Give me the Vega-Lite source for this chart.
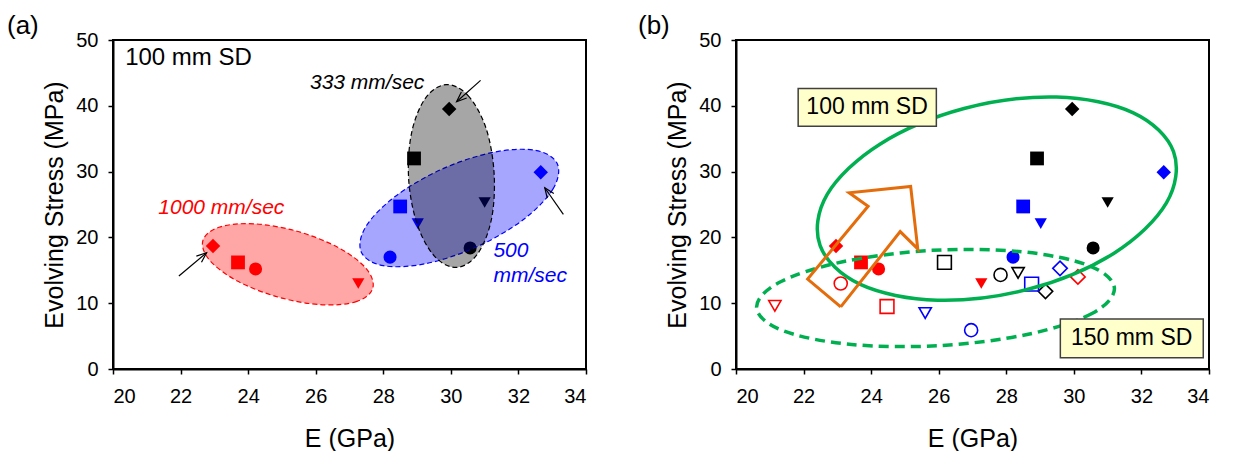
{
  "$schema": "https://vega.github.io/schema/vega-lite/v6.json",
  "padding": {"left": 6, "top": 12, "right": 5, "bottom": 2},
  "bounds": "flush",
  "spacing": 150,
  "config": {
    "font": "Liberation Sans",
    "view": {"stroke": "black", "strokeWidth": 2},
    "axis": {
      "grid": false,
      "domainColor": "black",
      "domainWidth": 2,
      "tickColor": "black",
      "tickWidth": 1.5,
      "tickSize": 5,
      "labelFont": "Liberation Sans",
      "labelFontSize": 20,
      "labelColor": "black",
      "titleFont": "Liberation Sans",
      "titleFontSize": 25,
      "titleFontWeight": "normal",
      "titleColor": "black"
    },
    "axisX": {"labelPadding": 12, "titlePadding": 20},
    "axisY": {"labelPadding": 10, "titlePadding": 8},
    "title": {"fontSize": 26, "fontWeight": "normal", "anchor": "start", "frame": "group", "baseline": "alphabetic", "offset": -9, "color": "black"}
  },
  "datasets": {
    "points": [
      {"SD": "100 mm", "rate": "1000 mm/sec", "specimen": "A", "E": 22.96, "S": 18.7},
      {"SD": "100 mm", "rate": "1000 mm/sec", "specimen": "B", "E": 23.70, "S": 16.2},
      {"SD": "100 mm", "rate": "1000 mm/sec", "specimen": "C", "E": 24.22, "S": 15.2},
      {"SD": "100 mm", "rate": "1000 mm/sec", "specimen": "D", "E": 27.26, "S": 13.0},
      {"SD": "100 mm", "rate": "333 mm/sec", "specimen": "A", "E": 29.95, "S": 39.5},
      {"SD": "100 mm", "rate": "333 mm/sec", "specimen": "B", "E": 28.91, "S": 32.0},
      {"SD": "100 mm", "rate": "333 mm/sec", "specimen": "C", "E": 30.57, "S": 18.4},
      {"SD": "100 mm", "rate": "333 mm/sec", "specimen": "D", "E": 31.00, "S": 25.3},
      {"SD": "100 mm", "rate": "500 mm/sec", "specimen": "A", "E": 32.66, "S": 29.9},
      {"SD": "100 mm", "rate": "500 mm/sec", "specimen": "B", "E": 28.50, "S": 24.7},
      {"SD": "100 mm", "rate": "500 mm/sec", "specimen": "C", "E": 28.20, "S": 17.0},
      {"SD": "100 mm", "rate": "500 mm/sec", "specimen": "D", "E": 29.02, "S": 22.1},
      {"SD": "150 mm", "rate": "1000 mm/sec", "specimen": "A", "E": 30.12, "S": 14.0},
      {"SD": "150 mm", "rate": "1000 mm/sec", "specimen": "B", "E": 24.47, "S": 9.5},
      {"SD": "150 mm", "rate": "1000 mm/sec", "specimen": "C", "E": 23.10, "S": 13.0},
      {"SD": "150 mm", "rate": "1000 mm/sec", "specimen": "D", "E": 21.15, "S": 9.6},
      {"SD": "150 mm", "rate": "333 mm/sec", "specimen": "A", "E": 29.16, "S": 11.8},
      {"SD": "150 mm", "rate": "333 mm/sec", "specimen": "B", "E": 26.17, "S": 16.2},
      {"SD": "150 mm", "rate": "333 mm/sec", "specimen": "C", "E": 27.83, "S": 14.3},
      {"SD": "150 mm", "rate": "333 mm/sec", "specimen": "D", "E": 28.35, "S": 14.6},
      {"SD": "150 mm", "rate": "500 mm/sec", "specimen": "A", "E": 29.59, "S": 15.3},
      {"SD": "150 mm", "rate": "500 mm/sec", "specimen": "B", "E": 28.75, "S": 12.9},
      {"SD": "150 mm", "rate": "500 mm/sec", "specimen": "C", "E": 26.96, "S": 5.9},
      {"SD": "150 mm", "rate": "500 mm/sec", "specimen": "D", "E": 25.60, "S": 8.5}
    ],
    "rings": [
      {"ring": "1000 mm/sec", "i": 0, "E": 27.69, "S": 12.30},
      {"ring": "1000 mm/sec", "i": 1, "E": 27.22, "S": 10.27},
      {"ring": "1000 mm/sec", "i": 2, "E": 26.20, "S": 9.76},
      {"ring": "1000 mm/sec", "i": 3, "E": 24.91, "S": 10.90},
      {"ring": "1000 mm/sec", "i": 4, "E": 23.68, "S": 13.37},
      {"ring": "1000 mm/sec", "i": 5, "E": 22.86, "S": 16.53},
      {"ring": "1000 mm/sec", "i": 6, "E": 22.66, "S": 19.52},
      {"ring": "1000 mm/sec", "i": 7, "E": 23.14, "S": 21.55},
      {"ring": "1000 mm/sec", "i": 8, "E": 24.16, "S": 22.07},
      {"ring": "1000 mm/sec", "i": 9, "E": 25.45, "S": 20.93},
      {"ring": "1000 mm/sec", "i": 10, "E": 26.67, "S": 18.45},
      {"ring": "1000 mm/sec", "i": 11, "E": 27.49, "S": 15.29},
      {"ring": "500 mm/sec", "i": 0, "E": 33.15, "S": 31.19},
      {"ring": "500 mm/sec", "i": 1, "E": 33.02, "S": 27.34},
      {"ring": "500 mm/sec", "i": 2, "E": 32.15, "S": 22.72},
      {"ring": "500 mm/sec", "i": 3, "E": 30.77, "S": 18.57},
      {"ring": "500 mm/sec", "i": 4, "E": 29.25, "S": 16.00},
      {"ring": "500 mm/sec", "i": 5, "E": 28.00, "S": 15.70},
      {"ring": "500 mm/sec", "i": 6, "E": 27.35, "S": 17.75},
      {"ring": "500 mm/sec", "i": 7, "E": 27.48, "S": 21.60},
      {"ring": "500 mm/sec", "i": 8, "E": 28.35, "S": 26.22},
      {"ring": "500 mm/sec", "i": 9, "E": 29.73, "S": 30.36},
      {"ring": "500 mm/sec", "i": 10, "E": 31.25, "S": 32.93},
      {"ring": "500 mm/sec", "i": 11, "E": 32.50, "S": 33.24},
      {"ring": "333 mm/sec", "i": 0, "E": 29.86, "S": 43.22},
      {"ring": "333 mm/sec", "i": 1, "E": 30.51, "S": 41.55},
      {"ring": "333 mm/sec", "i": 2, "E": 31.04, "S": 36.61},
      {"ring": "333 mm/sec", "i": 3, "E": 31.28, "S": 29.71},
      {"ring": "333 mm/sec", "i": 4, "E": 31.20, "S": 22.72},
      {"ring": "333 mm/sec", "i": 5, "E": 30.79, "S": 17.49},
      {"ring": "333 mm/sec", "i": 6, "E": 30.18, "S": 15.44},
      {"ring": "333 mm/sec", "i": 7, "E": 29.52, "S": 17.11},
      {"ring": "333 mm/sec", "i": 8, "E": 29.00, "S": 22.05},
      {"ring": "333 mm/sec", "i": 9, "E": 28.75, "S": 28.95},
      {"ring": "333 mm/sec", "i": 10, "E": 28.84, "S": 35.94},
      {"ring": "333 mm/sec", "i": 11, "E": 29.25, "S": 41.17},
      {"ring": "100 mm SD", "i": 0, "E": 32.95, "S": 33.03},
      {"ring": "100 mm SD", "i": 1, "E": 32.74, "S": 25.23},
      {"ring": "100 mm SD", "i": 2, "E": 31.19, "S": 17.60},
      {"ring": "100 mm SD", "i": 3, "E": 28.70, "S": 12.19},
      {"ring": "100 mm SD", "i": 4, "E": 25.96, "S": 10.45},
      {"ring": "100 mm SD", "i": 5, "E": 23.68, "S": 12.85},
      {"ring": "100 mm SD", "i": 6, "E": 22.49, "S": 18.74},
      {"ring": "100 mm SD", "i": 7, "E": 22.70, "S": 26.54},
      {"ring": "100 mm SD", "i": 8, "E": 24.26, "S": 34.17},
      {"ring": "100 mm SD", "i": 9, "E": 26.75, "S": 39.58},
      {"ring": "100 mm SD", "i": 10, "E": 29.49, "S": 41.33},
      {"ring": "100 mm SD", "i": 11, "E": 31.76, "S": 38.93},
      {"ring": "150 mm SD", "i": 0, "E": 31.20, "S": 12.31},
      {"ring": "150 mm SD", "i": 1, "E": 30.55, "S": 8.48},
      {"ring": "150 mm SD", "i": 2, "E": 28.65, "S": 5.28},
      {"ring": "150 mm SD", "i": 3, "E": 26.01, "S": 3.55},
      {"ring": "150 mm SD", "i": 4, "E": 23.35, "S": 3.76},
      {"ring": "150 mm SD", "i": 5, "E": 21.37, "S": 5.86},
      {"ring": "150 mm SD", "i": 6, "E": 20.61, "S": 9.28},
      {"ring": "150 mm SD", "i": 7, "E": 21.26, "S": 13.10},
      {"ring": "150 mm SD", "i": 8, "E": 23.16, "S": 16.30},
      {"ring": "150 mm SD", "i": 9, "E": 25.80, "S": 18.03},
      {"ring": "150 mm SD", "i": 10, "E": 28.46, "S": 17.82},
      {"ring": "150 mm SD", "i": 11, "E": 30.44, "S": 15.72}
    ],
    "trend": [
      {"i": 0, "E": 23.10, "S": 9.45},
      {"i": 1, "E": 22.12, "S": 13.67},
      {"i": 2, "E": 23.91, "S": 24.74},
      {"i": 3, "E": 23.35, "S": 26.78},
      {"i": 4, "E": 25.17, "S": 27.74},
      {"i": 5, "E": 25.38, "S": 18.25},
      {"i": 6, "E": 24.86, "S": 20.88},
      {"i": 7, "E": 23.10, "S": 9.45}
    ],
    "pointers": [
      {"id": 1, "E0": 30.88, "S0": 43.87, "E1": 30.17, "S1": 40.62},
      {"id": 2, "E0": 21.95, "S0": 14.13, "E1": 22.77, "S1": 17.67},
      {"id": 3, "E0": 33.33, "S0": 23.51, "E1": 32.78, "S1": 27.55}
    ],
    "rateNotes": [
      {"label": "333 mm/sec", "rate": "333 mm/sec", "E": 25.83, "S": 43.42},
      {"label": "1000 mm/sec", "rate": "1000 mm/sec", "E": 21.34, "S": 24.51},
      {"label": "500", "rate": "500 mm/sec", "E": 31.26, "S": 17.93},
      {"label": "mm/sec", "rate": "500 mm/sec", "E": 31.26, "S": 14.13}
    ],
    "boxes": [
      {"label": "100 mm SD", "E0": 21.84, "E1": 25.93, "S0": 36.89, "S1": 42.64, "Ec": 23.88, "Sc": 39.76},
      {"label": "150 mm SD", "E0": 29.60, "E1": 33.83, "S0": 1.72, "S1": 7.58, "Ec": 31.71, "Sc": 4.65}
    ]
  },
  "hconcat": [
    {
      "width": 473,
      "height": 329,
      "title": {"text": "(a)", "dx": -106},
      "layer": [
        {
          "data": {"name": "points"},
          "transform": [{"filter": "datum.SD === '100 mm'"}],
          "mark": {"type": "point", "filled": true, "opacity": 1, "strokeWidth": 0},
          "encoding": {
            "x": {"field": "E", "type": "quantitative", "title": "E (GPa)", "scale": {"domain": [20, 34], "nice": false, "zero": false}, "axis": {"values": [20, 22, 24, 26, 28, 30, 32, 34]}},
            "y": {"field": "S", "type": "quantitative", "title": "Evolving Stress (MPa)", "scale": {"domain": [0, 50], "nice": false}, "axis": {"values": [0, 10, 20, 30, 40, 50]}},
            "color": {"field": "rate", "type": "nominal", "scale": {"domain": ["1000 mm/sec", "333 mm/sec", "500 mm/sec"], "range": ["#FF0000", "#000000", "#0000FF"]}, "legend": null},
            "shape": {"field": "specimen", "type": "nominal", "scale": {"domain": ["A", "B", "C", "D"], "range": ["diamond", "square", "circle", "triangle-down"]}, "legend": null},
            "size": {"field": "specimen", "type": "ordinal", "scale": {"domain": ["A", "B", "C", "D"], "range": [210, 150, 130, 200]}, "legend": null}
          }
        },
        {
          "data": {"name": "rings"},
          "transform": [{"filter": "datum.ring === '1000 mm/sec'"}],
          "mark": {"type": "line", "interpolate": "cardinal-closed", "stroke": "#FF0000", "strokeWidth": 1.2, "strokeDash": [5, 3], "fill": "#FF0000", "fillOpacity": 0.35},
          "encoding": {
            "x": {"field": "E", "type": "quantitative", "title": "E (GPa)"},
            "y": {"field": "S", "type": "quantitative", "title": "Evolving Stress (MPa)"},
            "order": {"field": "i", "type": "quantitative"}
          }
        },
        {
          "data": {"name": "rings"},
          "transform": [{"filter": "datum.ring === '500 mm/sec'"}],
          "mark": {"type": "line", "interpolate": "cardinal-closed", "stroke": "#0000FF", "strokeWidth": 1.2, "strokeDash": [5, 3], "fill": "#0000FF", "fillOpacity": 0.35},
          "encoding": {
            "x": {"field": "E", "type": "quantitative", "title": "E (GPa)"},
            "y": {"field": "S", "type": "quantitative", "title": "Evolving Stress (MPa)"},
            "order": {"field": "i", "type": "quantitative"}
          }
        },
        {
          "data": {"name": "rings"},
          "transform": [{"filter": "datum.ring === '333 mm/sec'"}],
          "mark": {"type": "line", "interpolate": "cardinal-closed", "stroke": "#000000", "strokeWidth": 1.2, "strokeDash": [5, 3], "fill": "#000000", "fillOpacity": 0.35},
          "encoding": {
            "x": {"field": "E", "type": "quantitative", "title": "E (GPa)"},
            "y": {"field": "S", "type": "quantitative", "title": "Evolving Stress (MPa)"},
            "order": {"field": "i", "type": "quantitative"}
          }
        },
        {
          "data": {"name": "pointers"},
          "mark": {"type": "rule", "color": "black", "strokeWidth": 1.2},
          "encoding": {
            "x": {"field": "E0", "type": "quantitative", "title": "E (GPa)"},
            "y": {"field": "S0", "type": "quantitative", "title": "Evolving Stress (MPa)"},
            "x2": {"field": "E1"},
            "y2": {"field": "S1"}
          }
        },
        {
          "data": {"name": "pointers"},
          "transform": [{"filter": "datum.id === 1"}],
          "mark": {"type": "point", "shape": "M-0.8,2L0,0L0.8,2", "filled": false, "stroke": "black", "strokeWidth": 1.2, "opacity": 1, "size": 100, "angle": 228},
          "encoding": {
            "x": {"field": "E1", "type": "quantitative", "title": "E (GPa)"},
            "y": {"field": "S1", "type": "quantitative", "title": "Evolving Stress (MPa)"}
          }
        },
        {
          "data": {"name": "pointers"},
          "transform": [{"filter": "datum.id === 2"}],
          "mark": {"type": "point", "shape": "M-0.8,2L0,0L0.8,2", "filled": false, "stroke": "black", "strokeWidth": 1.2, "opacity": 1, "size": 100, "angle": 50},
          "encoding": {
            "x": {"field": "E1", "type": "quantitative", "title": "E (GPa)"},
            "y": {"field": "S1", "type": "quantitative", "title": "Evolving Stress (MPa)"}
          }
        },
        {
          "data": {"name": "pointers"},
          "transform": [{"filter": "datum.id === 3"}],
          "mark": {"type": "point", "shape": "M-0.8,2L0,0L0.8,2", "filled": false, "stroke": "black", "strokeWidth": 1.2, "opacity": 1, "size": 100, "angle": 325},
          "encoding": {
            "x": {"field": "E1", "type": "quantitative", "title": "E (GPa)"},
            "y": {"field": "S1", "type": "quantitative", "title": "Evolving Stress (MPa)"}
          }
        },
        {
          "data": {"name": "rateNotes"},
          "mark": {"type": "text", "align": "left", "baseline": "middle", "fontSize": 21, "fontStyle": "italic", "font": "Liberation Sans"},
          "encoding": {
            "x": {"field": "E", "type": "quantitative", "title": "E (GPa)"},
            "y": {"field": "S", "type": "quantitative", "title": "Evolving Stress (MPa)"},
            "text": {"field": "label"},
            "color": {"field": "rate", "type": "nominal", "legend": null}
          }
        },
        {
          "data": {"values": [{"label": "100 mm SD", "E": 20.36, "S": 47.3}]},
          "mark": {"type": "text", "align": "left", "baseline": "middle", "fontSize": 24, "color": "black", "font": "Liberation Sans"},
          "encoding": {
            "x": {"field": "E", "type": "quantitative", "title": "E (GPa)"},
            "y": {"field": "S", "type": "quantitative", "title": "Evolving Stress (MPa)"},
            "text": {"field": "label"}
          }
        }
      ]
    },
    {
      "width": 473,
      "height": 329,
      "title": {"text": "(b)", "dx": -98},
      "layer": [
        {
          "data": {"name": "points"},
          "transform": [{"filter": "datum.SD === '100 mm'"}],
          "mark": {"type": "point", "filled": true, "opacity": 1, "strokeWidth": 0},
          "encoding": {
            "x": {"field": "E", "type": "quantitative", "title": "E (GPa)", "scale": {"domain": [20, 34], "nice": false, "zero": false}, "axis": {"values": [20, 22, 24, 26, 28, 30, 32, 34]}},
            "y": {"field": "S", "type": "quantitative", "title": "Evolving Stress (MPa)", "scale": {"domain": [0, 50], "nice": false}, "axis": {"values": [0, 10, 20, 30, 40, 50]}},
            "color": {"field": "rate", "type": "nominal", "scale": {"domain": ["1000 mm/sec", "333 mm/sec", "500 mm/sec"], "range": ["#FF0000", "#000000", "#0000FF"]}, "legend": null},
            "shape": {"field": "specimen", "type": "nominal", "scale": {"domain": ["A", "B", "C", "D"], "range": ["diamond", "square", "circle", "triangle-down"]}, "legend": null},
            "size": {"field": "specimen", "type": "ordinal", "scale": {"domain": ["A", "B", "C", "D"], "range": [210, 150, 130, 200]}, "legend": null}
          }
        },
        {
          "data": {"name": "points"},
          "transform": [{"filter": "datum.SD === '150 mm'"}],
          "mark": {"type": "point", "filled": false, "opacity": 1, "strokeWidth": 1.6},
          "encoding": {
            "x": {"field": "E", "type": "quantitative", "title": "E (GPa)"},
            "y": {"field": "S", "type": "quantitative", "title": "Evolving Stress (MPa)"},
            "color": {"field": "rate", "type": "nominal", "legend": null},
            "shape": {"field": "specimen", "type": "nominal", "legend": null},
            "size": {"field": "specimen", "type": "ordinal", "legend": null}
          }
        },
        {
          "data": {"name": "rings"},
          "transform": [{"filter": "datum.ring === '100 mm SD'"}],
          "mark": {"type": "line", "interpolate": "cardinal-closed", "stroke": "#00B050", "strokeWidth": 3.5},
          "encoding": {
            "x": {"field": "E", "type": "quantitative", "title": "E (GPa)"},
            "y": {"field": "S", "type": "quantitative", "title": "Evolving Stress (MPa)"},
            "order": {"field": "i", "type": "quantitative"}
          }
        },
        {
          "data": {"name": "rings"},
          "transform": [{"filter": "datum.ring === '150 mm SD'"}],
          "mark": {"type": "line", "interpolate": "cardinal-closed", "stroke": "#00B050", "strokeWidth": 3.5, "strokeDash": [10, 6]},
          "encoding": {
            "x": {"field": "E", "type": "quantitative", "title": "E (GPa)"},
            "y": {"field": "S", "type": "quantitative", "title": "Evolving Stress (MPa)"},
            "order": {"field": "i", "type": "quantitative"}
          }
        },
        {
          "data": {"name": "trend"},
          "mark": {"type": "line", "interpolate": "linear", "stroke": "#E46C0A", "strokeWidth": 3, "strokeJoin": "miter"},
          "encoding": {
            "x": {"field": "E", "type": "quantitative", "title": "E (GPa)"},
            "y": {"field": "S", "type": "quantitative", "title": "Evolving Stress (MPa)"},
            "order": {"field": "i", "type": "quantitative"}
          }
        },
        {
          "data": {"name": "boxes"},
          "mark": {"type": "rect", "fill": "#FFFFCC", "stroke": "#404040", "strokeWidth": 1.5},
          "encoding": {
            "x": {"field": "E0", "type": "quantitative", "title": "E (GPa)"},
            "x2": {"field": "E1"},
            "y": {"field": "S0", "type": "quantitative", "title": "Evolving Stress (MPa)"},
            "y2": {"field": "S1"}
          }
        },
        {
          "data": {"name": "boxes"},
          "mark": {"type": "text", "align": "center", "baseline": "middle", "fontSize": 23, "color": "black", "font": "Liberation Sans"},
          "encoding": {
            "x": {"field": "Ec", "type": "quantitative", "title": "E (GPa)"},
            "y": {"field": "Sc", "type": "quantitative", "title": "Evolving Stress (MPa)"},
            "text": {"field": "label"}
          }
        }
      ]
    }
  ]
}
